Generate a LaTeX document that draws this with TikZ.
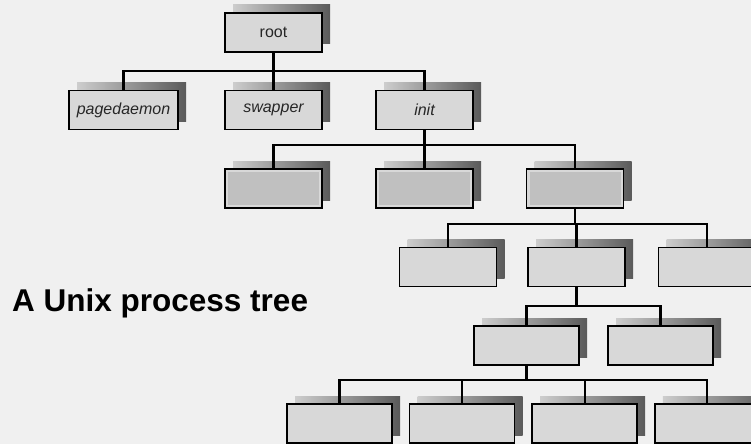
\documentclass[tikz,border=0pt]{standalone}
\usepackage{fontspec}
\setmainfont{Liberation Sans}
\usetikzlibrary{shadows,positioning}
\definecolor{bgGray}{HTML}{F0F0F0}
\definecolor{boxGray}{HTML}{D8D8D8}
\definecolor{boxDark}{HTML}{C0C0C0}
\definecolor{shadeLight}{HTML}{CDCDCD}
\definecolor{shadeDark}{HTML}{5A5A5A}
\tikzset{
myProc/.style={
	rectangle, draw=black, fill=boxGray, line width=1.6pt,
	minimum width=97pt, minimum height=39pt, inner sep=0pt,
	font=\fontsize{16}{19}\selectfont\itshape, text=black!85,
	general shadow={shadow xshift=8pt, shadow yshift=8pt,
		left color=shadeLight, right color=shadeDark}
}
, myProcWide/.style={myProc, minimum width=105pt}
, myProcEmpty/.style={
	myProc, fill=boxDark,
	path picture = {
		\draw[boxGray, line width=6pt]
		(path picture bounding box.south west) rectangle (path picture bounding box.north east);
	}
}
% link
, myLink/.style={line width=2.2pt}
}

\begin{document}
\begin{tikzpicture}[x=1pt, y=-1pt]
	% background
	\fill[bgGray] (0,0) rectangle (751,444);
	\clip (0,0) rectangle (751,444);
	% title
	\node[font=\fontsize{31.5}{36}\selectfont\bfseries, anchor=base west, inner sep=0pt] (Title) at (12,311) {A Unix process tree};
	% level 0 and 1
	\node[myProc, font=\fontsize{16}{19}\selectfont] (Root) at (273.5,32.5) {root};
	\node[myProc, minimum width=109pt] (Pagedaemon) at (123.5,110) {pagedaemon};
	\node[myProc] (Swapper) at (273.5,110) {swapper};
	\node[myProc] (Init) at (424.5,110) {init};
	% level 2
	\node[myProcEmpty] (ChildA) at (273.5,188.5) {};
	\node[myProcEmpty] (ChildB) at (424.5,188.5) {};
	\node[myProcEmpty] (ChildC) at (575,188.5) {};
	% level 3
	\node[myProc] (GrandA) at (448,267) {};
	\node[myProc] (GrandB) at (576.5,267) {};
	\node[myProc] (GrandC) at (707,267) {};
	% level 4
	\node[myProcWide] (GreatA) at (526.5,345.5) {};
	\node[myProcWide] (GreatB) at (660.5,345.5) {};
	% level 5
	\node[myProcWide] (LeafA) at (339.5,423.5) {};
	\node[myProcWide] (LeafB) [right=16pt of LeafA] {};
	\node[myProcWide] (LeafC) [right=16pt of LeafB] {};
	\node[myProcWide] (LeafD) [right=16pt of LeafC] {};

	% links
	\coordinate (BusRoot) at (273.5,71);
	\coordinate (BusInit) at (424.5,145);
	\coordinate (BusChild) at (575,224);
	\coordinate (BusGrand) at (576.5,306);
	\coordinate (BusGreat) at (526.5,380);

	\draw[myLink] (Pagedaemon) |- (BusRoot) -| (Init);
	\draw[myLink] (Root) -- (Swapper);

	\draw[myLink] (Init) -- (BusInit);
	\draw[myLink] (ChildA) |- (BusInit) -| (ChildC);
	\draw[myLink] (BusInit) -- (ChildB);

	\draw[myLink] (ChildC) -- (BusChild);
	\draw[myLink] (GrandA) |- (BusChild) -| (GrandC);
	\draw[myLink] (BusChild) -| (GrandB);

	\draw[myLink] (GrandB) -- (BusGrand);
	\draw[myLink] (GreatA) |- (BusGrand) -| (GreatB);

	\draw[myLink] (GreatA) -- (BusGreat);
	\draw[myLink] (LeafA) |- (BusGreat) -| (LeafD);
	\draw[myLink] (BusGreat) -| (LeafB);
	\draw[myLink] (BusGreat) -| (LeafC);
\end{tikzpicture}
\end{document}
